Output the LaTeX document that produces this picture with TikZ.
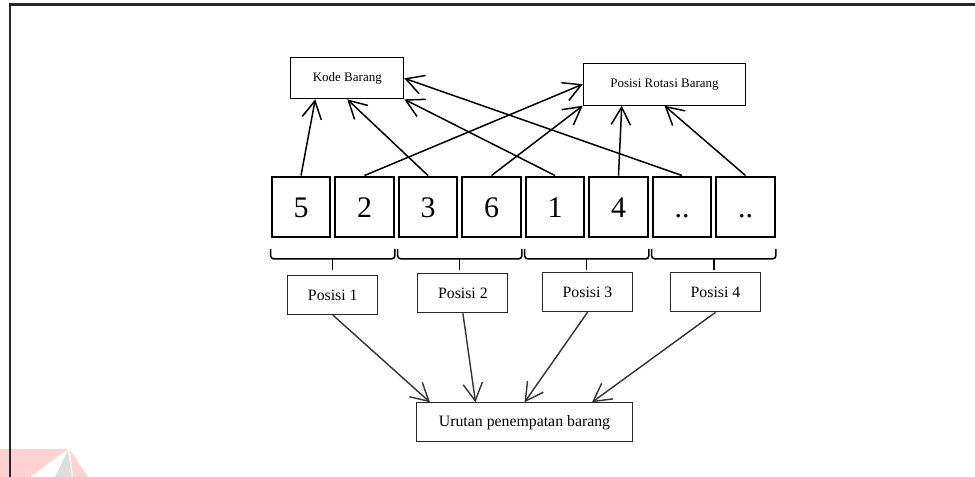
\documentclass[tikz,border=0pt]{standalone}
\usepackage{fontspec}
\setmainfont{Liberation Serif}
\usetikzlibrary{arrows.meta,calc}

\begin{document}
\begin{tikzpicture}[
    x=0.02cm,
    y=-0.02cm,
    every node/.style={inner sep=0pt, font=\fontsize{9}{11}\selectfont},
    cellbox/.style={draw=black, line width=1.4pt, minimum width=1.17cm, minimum height=1.21cm, text height=11.4pt, text depth=0pt, font=\fontsize{17}{20}\selectfont},
    labelbox/.style={draw=black, line width=0.6pt, font=\fontsize{7.4}{9}\selectfont},
    posbox/.style={draw=black!85, line width=0.6pt, minimum width=1.8cm, minimum height=0.78cm},
    bracket/.style={draw=black, line width=0.85pt, rounded corners=2pt},
    uparrow/.style={draw=black, line width=0.85pt, -{Straight Barb[length=10pt,width=11pt]}},
    downarrow/.style={draw=black!80, line width=0.8pt, -{Straight Barb[length=10pt,width=11pt]}},
    frame/.style={draw=black!85, line width=1.2pt}
  ]
    \useasboundingbox (0,0) rectangle (975,477);
    % faint watermark
    \fill[red!18] (0,449) -- (68,449) -- (30,477) -- (0,477) -- cycle;
    \fill[red!18] (70,450) -- (88,477) -- (73,477) -- cycle;
    \fill[black!13] (68,450) -- (55,477) -- (72,477) -- cycle;
    \draw[frame] (10,477) -- (10,4.5) -- (975,4.5);
    % top labels
    \node[labelbox, minimum width=2.26cm, minimum height=0.82cm] (kode) at (347.3,78.3) {Kode Barang};
    \node[labelbox, minimum width=3.25cm, minimum height=0.84cm] (rotasi) at (664.5,84.2) {Posisi Rotasi Barang};
    % cells
    \foreach \d [count=\i] in {5,2,3,6,1,4,{..},{..}} {
      \node[cellbox] (c\i) at ({301+63.5*(\i-1)},207) {\d};
    }
    % brackets under pairs of cells
    \foreach \a/\b in {c1/c2,c3/c4,c5/c6,c7/c8} {
      \draw[bracket] ($(\a.south west)+(0,10.5)$) |- ($(\b.south east)+(0,20.5)$) -- ++(0,-10);
      \draw[bracket] ($(\a.south west)!0.5!(\b.south east)+(0,20.5)$) -- ++(0,11);
    }
    % positions
    \node[posbox] (p1) at (332.8,295) {Posisi 1};
    \node[posbox] (p2) at (462.9,293.3) {Posisi 2};
    \node[posbox] (p3) at (587.5,292.3) {Posisi 3};
    \node[posbox] (p4) at (715.5,292.3) {Posisi 4};
    \node[posbox, minimum width=4.32cm] (urutan) at (524.5,422.3) {Urutan penempatan barang};
    % cells to labels
    \draw[uparrow] (c1.north) -- ($(kode.south west)+(25,0)$);
    \draw[uparrow] (c2.north) -- (rotasi.west);
    \draw[uparrow] (c3.north) -- (kode.south);
    \draw[uparrow] (c4.north) -- (rotasi.south west);
    \draw[uparrow] (c5.north) -- (kode.south east);
    \draw[uparrow] (c6.north) -- ($(rotasi.south west)+(39,0)$);
    \draw[uparrow] (c7.north) -- (kode.east);
    \draw[uparrow] (c8.north) -- (rotasi.south);
    % positions to order
    \draw[downarrow] (p1.south) -- ($(urutan.north west)+(14,0)$);
    \draw[downarrow] (p2.south) -- ($(urutan.north west)+(59.5,0)$);
    \draw[downarrow] (p3.south) -- (urutan.north);
    \draw[downarrow] (p4.south) -- ($(urutan.north east)+(-41,0)$);
\end{tikzpicture}
\end{document}
